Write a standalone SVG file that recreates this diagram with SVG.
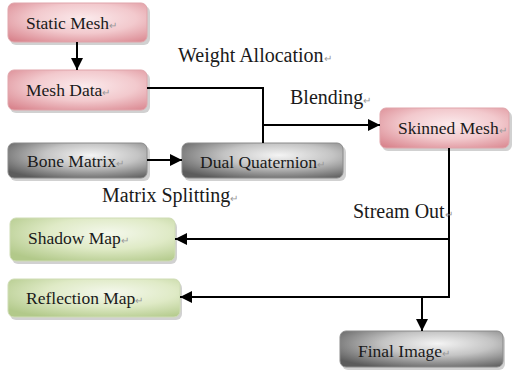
<svg xmlns="http://www.w3.org/2000/svg" width="516" height="372" viewBox="0 0 516 372">
<defs>
<radialGradient id="pink" cx="0.55" cy="0.4" r="0.75">
<stop offset="0" stop-color="#fbeaec"/>
<stop offset="0.5" stop-color="#f2c9cd"/>
<stop offset="1" stop-color="#d9858e"/>
</radialGradient>
<radialGradient id="grey" cx="0.6" cy="0.35" r="0.75">
<stop offset="0" stop-color="#f4f4f4"/>
<stop offset="0.45" stop-color="#c4c4c4"/>
<stop offset="1" stop-color="#5c5c5c"/>
</radialGradient>
<radialGradient id="green" cx="0.6" cy="0.35" r="0.75">
<stop offset="0" stop-color="#f4f8ec"/>
<stop offset="0.5" stop-color="#dfeac6"/>
<stop offset="1" stop-color="#b2c98a"/>
</radialGradient>
<marker id="ah" viewBox="0 0 10 10" refX="10" refY="5" markerWidth="12" markerHeight="12" markerUnits="userSpaceOnUse" orient="auto">
<path d="M0,0 L10,5 L0,10 Z" fill="#000"/>
</marker>
</defs>
<style>
.shadow{fill:#bdbdbd;opacity:0.7}
.box{stroke:#c9c9c9;stroke-width:1}
.pk{fill:url(#pink);stroke:#e0a5ab}
.gy{fill:url(#grey);stroke:#8a8a8a}
.gn{fill:url(#green);stroke:#cfdcb5}
text{font-family:"Liberation Serif","Times New Roman",serif;font-size:17.5px;fill:#1a1a1a}
.lb{font-size:20px}
.rm{font-size:10px;fill:#999}
.ln{fill:none;stroke:#000;stroke-width:2}
</style>
<rect width="516" height="372" fill="#fff"/>
<g id="static-mesh">
<rect class="shadow" x="10" y="6" width="140" height="39" rx="6"/>
<rect class="box pk" x="8" y="3" width="139" height="39" rx="6"/>
<text x="26" y="29">Static Mesh<tspan class="rm">↵</tspan></text>
</g>
<g id="mesh-data">
<rect class="shadow" x="10" y="73" width="140" height="40" rx="6"/>
<rect class="box pk" x="8" y="70" width="139" height="40" rx="6"/>
<text x="26" y="96">Mesh Data<tspan class="rm">↵</tspan></text>
</g>
<g id="bone-matrix">
<rect class="shadow" x="10" y="146" width="140" height="35" rx="6"/>
<rect class="box gy" x="8" y="143" width="139" height="35" rx="6"/>
<text x="27" y="167">Bone Matrix<tspan class="rm">↵</tspan></text>
</g>
<g id="dual-quaternion">
<rect class="shadow" x="184" y="146" width="162" height="35" rx="6"/>
<rect class="box gy" x="182" y="143" width="161" height="35" rx="6"/>
<text x="200" y="168">Dual Quaternion<tspan class="rm">↵</tspan></text>
</g>
<g id="skinned-mesh">
<rect class="shadow" x="382" y="111" width="130" height="40" rx="6"/>
<rect class="box pk" x="380" y="108" width="129" height="40" rx="6"/>
<text x="398" y="134">Skinned Mesh<tspan class="rm">↵</tspan></text>
</g>
<g id="shadow-map">
<rect class="shadow" x="12" y="221" width="165" height="43" rx="6"/>
<rect class="box gn" x="10" y="218" width="165" height="43" rx="6"/>
<text x="28" y="244">Shadow Map<tspan class="rm">↵</tspan></text>
</g>
<g id="reflection-map">
<rect class="shadow" x="10" y="282" width="172" height="38" rx="6"/>
<rect class="box gn" x="8" y="279" width="172" height="38" rx="6"/>
<text x="26" y="304">Reflection Map<tspan class="rm">↵</tspan></text>
</g>
<g id="final-image">
<rect class="shadow" x="342" y="334" width="163" height="36" rx="6"/>
<rect class="box gy" x="340" y="331" width="163" height="36" rx="6"/>
<text x="358" y="357">Final Image<tspan class="rm">↵</tspan></text>
</g>
<g id="connectors">
<line class="ln" x1="77" y1="42" x2="77" y2="70" marker-end="url(#ah)"/>
<polyline class="ln" points="147,88 263,88 263,143"/>
<line class="ln" x1="263" y1="125" x2="380" y2="125" marker-end="url(#ah)"/>
<line class="ln" x1="147" y1="160" x2="182" y2="160" marker-end="url(#ah)"/>
<polyline class="ln" points="449,148 449,297 180,297" marker-end="url(#ah)"/>
<line class="ln" x1="449" y1="239" x2="175" y2="239" marker-end="url(#ah)"/>
<line class="ln" x1="422" y1="297" x2="422" y2="331" marker-end="url(#ah)"/>
</g>
<g id="labels">
<text class="lb" x="178" y="62">Weight Allocation<tspan class="rm">↵</tspan></text>
<text class="lb" x="290" y="104">Blending<tspan class="rm">↵</tspan></text>
<text class="lb" x="102" y="202">Matrix Splitting<tspan class="rm">↵</tspan></text>
<text class="lb" x="353" y="218">Stream Out<tspan class="rm">↵</tspan></text>
</g>
</svg>
